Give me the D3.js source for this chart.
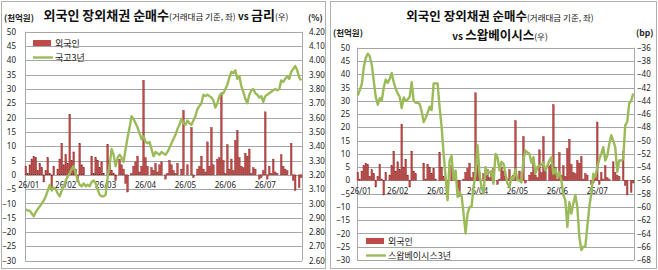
<!DOCTYPE html>
<html>
<head>
<meta charset="utf-8">
<script src="https://cdn.jsdelivr.net/npm/d3@7"></script>
<style>
	body { margin: 0; background: #fff; }
	svg { display: block; font-family: "Noto Sans CJK KR", "Noto Sans", sans-serif; }
	.tick text { fill: #222; }
</style>
</head>
<body>
<svg id="chart" width="658" height="270"></svg>
<script>
// ==================================
// data
// ==================================

// x axis labels, one every 20 trading days
var monthLabels = ["26/01", "26/02", "26/03", "26/04", "26/05", "26/06", "26/07"];
var LABEL_EVERY = 20;

// 외국인 순매수 (천억원), daily
var foreignBuy = [
	3, 0.5, 3.5, 5.5, 6.5, 6, 1.5, 4, 2.5, -2.5, 1.5, 6, 0.5, -5.5, 3, 0, 2, 5.5, 11, 3.5,
	7, 4, 21, 5, 8, 2, -2.5, 11, 3.5, 2.5, 0, 0, 0, 6.5, 0.5, 6, 5, 2.5, 4.5, 0.5,
	0, 10.5, 5, 1.5, 0.5, -2, 0, 5.5, 3.5, 2, -3, -6, 0, 0.5, 3, 4.5, 6.5, 1, 3, 33,
	6, 3, 0, 2.5, 1.5, 4, 1, 3.5, 4.5, 0, -1.5, 0.5, 5, 3.5, 1.5, 0.5, 4, 0, 2, 22.5,
	0, 3.5, 0, 16.5, -1, 0, 2, 3, 6.5, 2, 1, 11.5, 3, 16.5, 3.5, 0, 5.5, 6, 28.5, 5,
	0.5, 10.5, 2, 5.5, 1.5, 12, 15.5, 6, 3, 2.5, 7.5, 6.5, 9, 0.5, 2.5, 2, 0, -1.5, -1, 1.5,
	22, -1.5, 3, 0.5, 5.5, 1, 0.5, 0, 7, 3, 2, 1.5, 0, 11, -2, -5.5, 0, -4.5, -1
];

// 국고3년 (%)
var ktb3y = [
	2.96, 2.95, 2.95, 2.93, 2.91, 2.94, 2.96, 2.98, 3.00, 3.02, 3.05, 3.09, 3.13, 3.09, 3.11, 3.10, 3.07, 3.05, 3.09, 3.12,
	3.16, 3.19, 3.21, 3.24, 3.26, 3.21, 3.17, 3.13, 3.12, 3.14, 3.12, 3.13, 3.12, 3.15, 3.16, 3.14, 3.10, 3.06, 3.05, 3.05,
	3.06, 3.18, 3.27, 3.38, 3.34, 3.26, 3.32, 3.34, 3.32, 3.29, 3.38, 3.46, 3.53, 3.61, 3.59, 3.56, 3.53, 3.49, 3.45, 3.47,
	3.43, 3.42, 3.43, 3.38, 3.33, 3.36, 3.35, 3.34, 3.36, 3.35, 3.34, 3.36, 3.39, 3.42, 3.45, 3.48, 3.52, 3.55, 3.59, 3.56,
	3.55, 3.58, 3.56, 3.55, 3.58, 3.61, 3.66, 3.68, 3.70, 3.76, 3.75, 3.76, 3.75, 3.74, 3.72, 3.67, 3.70, 3.75, 3.77, 3.77,
	3.80, 3.83, 3.88, 3.92, 3.91, 3.93, 3.87, 3.89, 3.82, 3.78, 3.73, 3.70, 3.76, 3.79, 3.80, 3.77, 3.76, 3.74, 3.75, 3.71,
	3.75, 3.76, 3.77, 3.78, 3.79, 3.80, 3.79, 3.80, 3.86, 3.85, 3.87, 3.89, 3.87, 3.92, 3.94, 3.96, 3.93, 3.88, 3.86
];

// 스왑베이시스3년 (bp)
var swapBasis3y = [
	-43.2, -42.4, -41.5, -39, -37.5, -36.9, -37.3, -38.6, -41, -43.4, -44.6, -43.6, -44, -42, -40.8, -41.3, -40.7, -39.8, -41.2, -42.2,
	-42.9, -43.4, -45.1, -43.5, -44, -43.8, -43.4, -41.2, -44, -44.3, -44.3, -44.5, -45.6, -47.2, -46.6, -45.8, -44.9, -45.4, -41.4, -41.4,
	-41.4, -45, -47.9, -52, -55.5, -59, -53, -52.3, -55.9, -54.5, -58.5, -57.8, -58.3, -61, -64, -61, -60, -60, -57, -55,
	-50.7, -55, -57, -58, -54, -55, -54.8, -54.6, -56.5, -52, -52.5, -54.5, -53.2, -53.5, -55, -56.5, -57, -55.5, -55.8, -54.3,
	-56, -56, -56.3, -53, -51.5, -51.8, -52, -53.3, -52.5, -55, -54, -53.8, -53.6, -53.3, -54.5, -53.8, -53, -52.5, -55, -54.3,
	-55.5, -54.8, -56, -58.2, -59, -63, -59.3, -61, -59.5, -58.2, -60, -64.5, -66.5, -66, -66, -63, -60, -58, -55, -55.5,
	-54, -52.8, -52, -51, -53, -52.3, -50.5, -49.2, -50, -51, -54.7, -53, -53, -52.8, -47.7, -47.2, -44.4, -44, -42.9
];

var leftTicks = [50, 45, 40, 35, 30, 25, 20, 15, 10, 5, 0, -5, -10, -15, -20, -25, -30];
var rateTicks = [4.2, 4.1, 4.0, 3.9, 3.8, 3.7, 3.6, 3.5, 3.4, 3.3, 3.2, 3.1, 3.0, 2.9, 2.8, 2.7, 2.6];
var basisTicks = [-36, -38, -40, -42, -44, -46, -48, -50, -52, -54, -56, -58, -60, -62, -64, -66, -68];

var BAR_COLOR = "#be4b48";
var BAR_EDGE = "#8a2222";
var LINE_COLOR = "#9bbb59";
var GRID_COLOR = "#a6a6a6";

var svg = d3.select("#chart");

// ==================================
// one panel = bars (left axis) + line (right axis)
// ==================================
function drawPanel(opt)
{
	var g = svg.append("g");

	// frame round the panel
	g.append("rect")
		.attr("x", opt.frame[0] + 0.5).attr("y", 1.5)
		.attr("width", opt.frame[1] - opt.frame[0]).attr("height", 267)
		.attr("fill", "none").attr("stroke", "#b0b0b0");

	var x = d3.scaleBand()
		.domain(d3.range(foreignBuy.length))
		.range([opt.x0, opt.x1])
		.paddingInner(0.2);

	var yL = d3.scaleLinear().domain([-30, 50]).range([opt.yBot, opt.yTop]);
	var yR = d3.scaleLinear().domain(opt.rightDomain).range([opt.yBot, opt.yTop]);

	// gridlines
	g.append("g").selectAll("line").data(leftTicks).join("line")
		.attr("x1", opt.x0).attr("x2", opt.x1)
		.attr("y1", function(d) { return Math.round(yL(d)) + 0.5; })
		.attr("y2", function(d) { return Math.round(yL(d)) + 0.5; })
		.attr("stroke", GRID_COLOR).attr("stroke-width", 1);

	// plot area side edges
	[opt.x0, opt.x1].forEach(function(px) {
		g.append("line")
			.attr("x1", Math.round(px) + 0.5).attr("x2", Math.round(px) + 0.5)
			.attr("y1", yL(50)).attr("y2", yL(-30))
			.attr("stroke", GRID_COLOR);
	});

	// left axis
	var axL = g.append("g")
		.attr("transform", "translate(" + (opt.x0 - opt.padL) + ",0)")
		.call(d3.axisLeft(yL).tickValues(leftTicks).tickSize(0).tickPadding(0));
	axL.select(".domain").remove();
	axL.selectAll("text").attr("font-size", 8).attr("font-family", "Noto Sans, sans-serif");

	// right axis
	var axR = g.append("g")
		.attr("transform", "translate(" + (opt.x1 + opt.padR) + ",0)")
		.call(d3.axisRight(yR).tickValues(opt.rightTicks).tickSize(0).tickPadding(0)
			.tickFormat(opt.rightFormat));
	axR.select(".domain").remove();
	axR.selectAll("text").attr("font-size", 8).attr("font-family", "Noto Sans, sans-serif");

	// bars
	g.append("g").selectAll("rect").data(foreignBuy).join("rect")
		.attr("x", function(d, i) { return x(i); })
		.attr("width", x.bandwidth())
		.attr("y", function(d) { return yL(Math.max(0, d)); })
		.attr("height", function(d) { return Math.abs(yL(d) - yL(0)); })
		.attr("fill", BAR_COLOR)
		.attr("stroke", BAR_EDGE)
		.attr("stroke-width", 0.4);

	// month labels sit just under the zero line
	g.append("g").selectAll("text").data(monthLabels).join("text")
		.attr("x", function(d, i) { return x(i * LABEL_EVERY) + x.bandwidth() / 2 + (i == 0 ? 3 : 0); })
		.attr("y", yL(0) + opt.labelDrop)
		.attr("text-anchor", "middle")
		.attr("font-size", 8)
		.attr("font-family", "Noto Sans, sans-serif")
		.attr("fill", "#222")
		.text(function(d) { return d; });

	// line
	var line = d3.line()
		.x(function(d, i) { return x(i) + x.bandwidth() / 2; })
		.y(function(d) { return yR(d); });

	g.append("path")
		.datum(opt.lineData)
		.attr("d", line)
		.attr("fill", "none")
		.attr("stroke", LINE_COLOR)
		.attr("stroke-width", 2.4)
		.attr("stroke-linejoin", "round");

	// unit captions
	g.append("text").attr("x", opt.unitL[0]).attr("y", opt.unitL[1])
		.attr("font-size", 8.5).attr("font-weight", "bold").attr("fill", "#222")
		.text("(천억원)");
	g.append("text").attr("x", opt.unitR[0]).attr("y", opt.unitR[1])
		.attr("font-size", 8.5).attr("font-weight", "bold").attr("fill", "#222")
		.text(opt.unitRText);

	// legend
	var lg = g.append("g").attr("transform", "translate(" + opt.legend[0] + "," + opt.legend[1] + ")");
	lg.append("rect").attr("x", 0).attr("y", -3).attr("width", 18).attr("height", 6)
		.attr("fill", BAR_COLOR);
	lg.append("text").attr("x", 22).attr("y", 3.5).attr("font-size", 9).attr("fill", "#222")
		.text("외국인");
	lg.append("line").attr("x1", 0).attr("x2", 20).attr("y1", 14.5).attr("y2", 14.5)
		.attr("stroke", LINE_COLOR).attr("stroke-width", 2.4);
	lg.append("text").attr("x", 22).attr("y", 18).attr("font-size", 9).attr("fill", "#222")
		.text(opt.lineName);

	return g;
}

// write a title from pieces: [text, size, bold]
function title(cx, cy, parts)
{
	var t = svg.append("text")
		.attr("x", cx).attr("y", cy)
		.attr("text-anchor", "middle")
		.attr("fill", "#111");
	parts.forEach(function(p) {
		t.append("tspan")
			.attr("font-size", p[1])
			.attr("font-weight", p[2] ? "bold" : "normal")
			.text(p[0]);
	});
}

// ==================================
// left: 국고3년
// ==================================
drawPanel({
	frame: [1, 325],
	x0: 25, x1: 302, yTop: 31.7, yBot: 260.7,
	padL: 9, padR: 7,
	rightDomain: [2.6, 4.2],
	rightTicks: rateTicks,
	rightFormat: d3.format(".2f"),
	lineData: ktb3y,
	lineName: "국고3년",
	labelDrop: 13,
	unitL: [4, 21], unitR: [308, 21], unitRText: "(%)",
	legend: [33, 43]
});

title(166, 20, [
	["외국인 장외채권 순매수", 13, true],
	["(거래대금 기준, 좌)", 8.5, false],
	[" vs ", 10, true],
	["금리", 13, true],
	["(우)", 8.5, false]
]);

// ==================================
// right: 스왑베이시스3년
// ==================================
drawPanel({
	frame: [330, 656],
	x0: 357, x1: 634, yTop: 47.7, yBot: 260,
	padL: 7, padR: 3,
	rightDomain: [-68, -36],
	rightTicks: basisTicks,
	rightFormat: d3.format("d"),
	lineData: swapBasis3y,
	lineName: "스왑베이시스3년",
	labelDrop: 14,
	unitL: [333, 36], unitR: [636, 36], unitRText: "(bp)",
	legend: [366, 241]
});

title(500, 21, [
	["외국인 장외채권 순매수", 12.5, true],
	["(거래대금 기준, 좌)", 8.5, false]
]);
title(500, 40, [
	["vs ", 10, true],
	["스왑베이시스", 12.5, true],
	["(우)", 8.5, false]
]);
</script>
</body>
</html>
